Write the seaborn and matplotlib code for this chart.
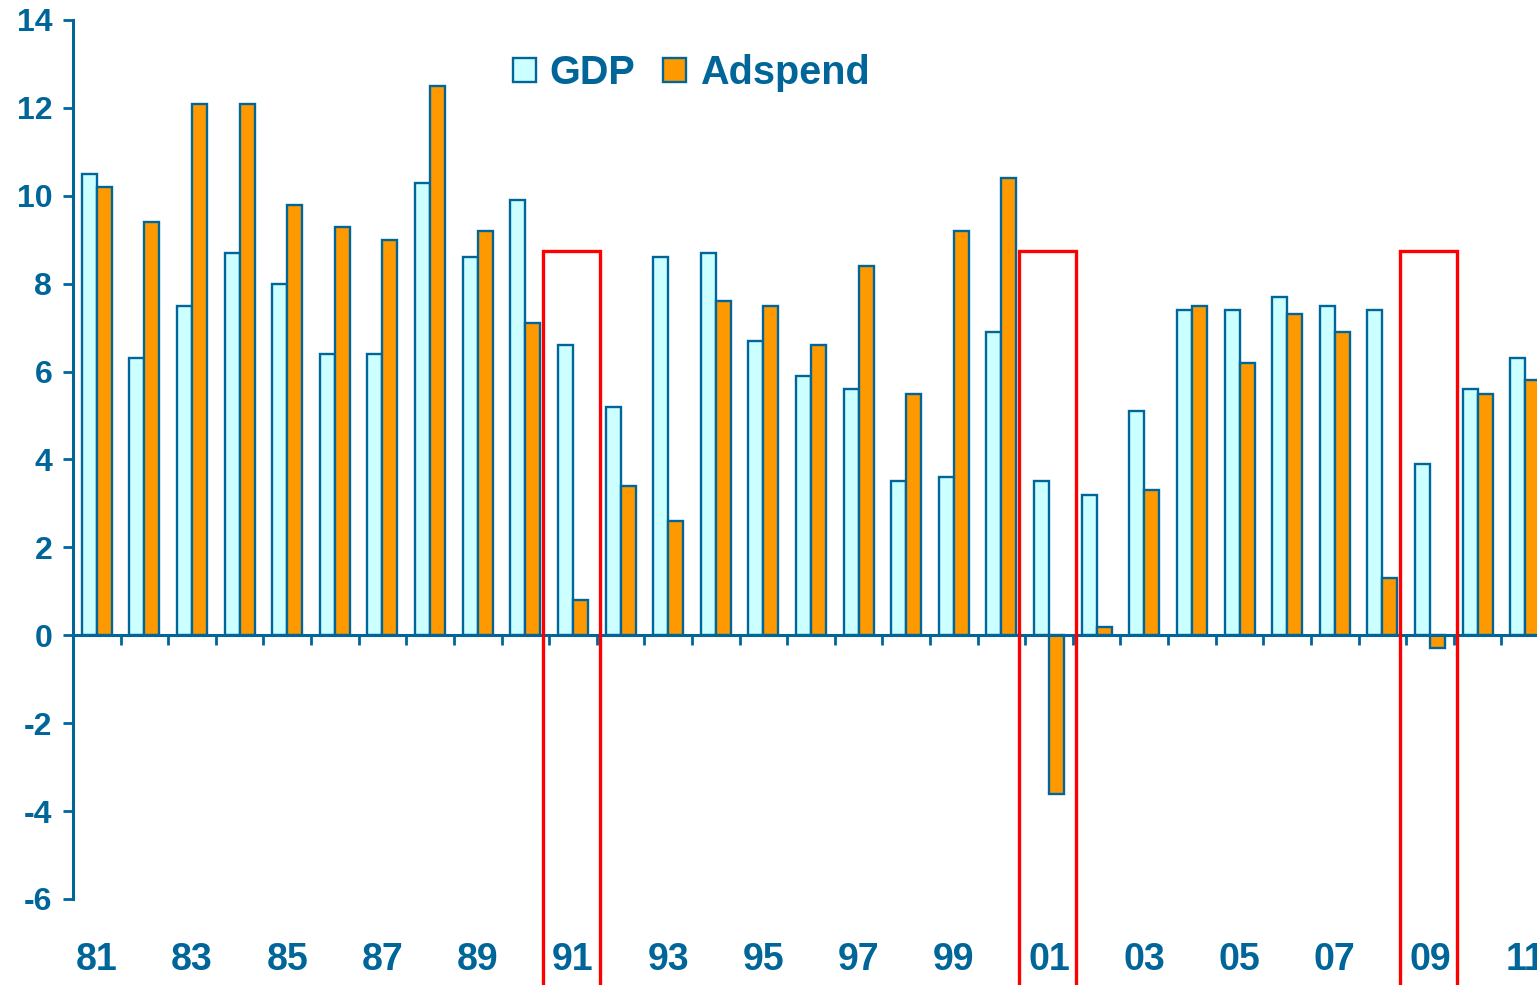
import matplotlib
matplotlib.use("Agg")
import matplotlib.pyplot as plt
import matplotlib.patches as mpatches
import seaborn as sns
import pandas as pd

years = ['81', '82', '83', '84', '85', '86', '87', '88', '89', '90',
         '91', '92', '93', '94', '95', '96', '97', '98', '99', '00',
         '01', '02', '03', '04', '05', '06', '07', '08', '09', '10', '11']
gdp = [10.5, 6.3, 7.5, 8.7, 8.0, 6.4, 6.4, 10.3, 8.6, 9.9,
       6.6, 5.2, 8.6, 8.7, 6.7, 5.9, 5.6, 3.5, 3.6, 6.9,
       3.5, 3.2, 5.1, 7.4, 7.4, 7.7, 7.5, 7.4, 3.9, 5.6, 6.3]
adspend = [10.2, 9.4, 12.1, 12.1, 9.8, 9.3, 9.0, 12.5, 9.2, 7.1,
           0.8, 3.4, 2.6, 7.6, 7.5, 6.6, 8.4, 5.5, 9.2, 10.4,
           -3.6, 0.2, 3.3, 7.5, 6.2, 7.3, 6.9, 1.3, -0.3, 5.5, 5.8]
series_names = ['GDP', 'Adspend']
highlight_years = ['91', '01', '09']
highlight_top = 8.75
yticks = list(range(-6, 15, 2))

BLUE = '#006699'
colors = {'GDP': '#CCFFFF', 'Adspend': '#FF9900'}

df = pd.DataFrame({
    'year': years * 2,
    'value': gdp + adspend,
    'series': ['GDP'] * len(years) + ['Adspend'] * len(years),
})

sns.set_style('white')
plt.rcParams['font.family'] = ['Liberation Sans', 'DejaVu Sans']
plt.rcParams['font.weight'] = 'bold'

fig = plt.figure(figsize=(15.37, 9.85), dpi=100)
ax = fig.add_axes([73 / 1537, 86 / 985, 1476 / 1537, 879 / 985])

sns.barplot(data=df, x='year', y='value', hue='series', order=years,
            hue_order=series_names, palette=colors, saturation=1, width=0.63,
            edgecolor=BLUE, linewidth=1.7, ax=ax, legend=False)

ax.set_xlim(-0.5, len(years) - 0.5)
ax.set_ylim(-6, 14)
ax.set_xlabel('')
ax.set_ylabel('')

for s in ['top', 'right']:
    ax.spines[s].set_visible(False)
ax.spines['left'].set_color(BLUE)
ax.spines['left'].set_linewidth(2.2)
ax.spines['bottom'].set_position(('data', 0))
ax.spines['bottom'].set_color(BLUE)
ax.spines['bottom'].set_linewidth(2.2)

ax.set_yticks(yticks)
ax.set_yticklabels([str(v) for v in yticks])
ax.tick_params(axis='y', direction='out', length=7, width=2, color=BLUE,
               labelcolor=BLUE, labelsize=23, pad=8, left=True)

bounds = [i + 0.5 for i in range(len(years) - 1)]
ax.set_xticks(bounds)
ax.set_xticklabels([''] * len(bounds))
ax.tick_params(axis='x', direction='out', length=7, width=2, color=BLUE, bottom=True)

sec = ax.secondary_xaxis('bottom')
label_idx = list(range(0, len(years), 2))
sec.set_xticks(label_idx)
sec.set_xticklabels([years[i] for i in label_idx])
sec.tick_params(axis='x', length=0, labelsize=27, labelcolor=BLUE, pad=31)
sec.spines['bottom'].set_visible(False)

for y in highlight_years:
    i = years.index(y)
    rect = mpatches.Rectangle((i - 0.63, -9), 1.19, highlight_top + 9,
                              fill=False, edgecolor='#FF0000', linewidth=2.4,
                              clip_on=False, zorder=5)
    ax.add_patch(rect)

handles = [mpatches.Patch(facecolor=colors[n], edgecolor=BLUE, linewidth=1.7, label=n)
           for n in series_names]
leg = fig.legend(handles=handles, loc='center left', bbox_to_anchor=(493 / 1537, 1 - 73 / 985),
                 ncol=2, frameon=False, fontsize=28.5, handlelength=0.58, handleheight=0.58,
                 handletextpad=0.35, columnspacing=0.7, borderpad=0)
for t in leg.get_texts():
    t.set_color(BLUE)
    t.set_fontweight('bold')

fig.savefig('out.png', dpi=100)
